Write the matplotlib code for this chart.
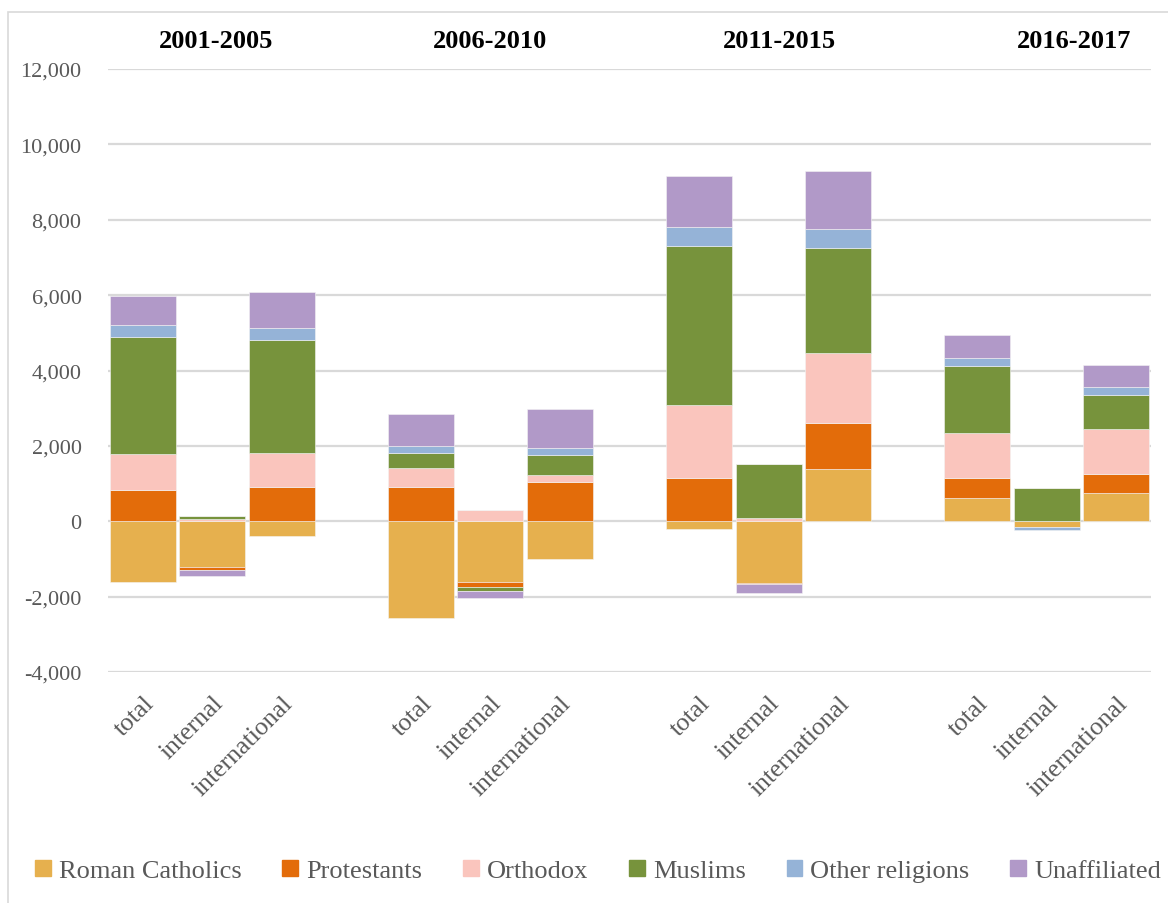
import matplotlib
matplotlib.use('Agg')
import matplotlib.pyplot as plt
import matplotlib.patches as patches
import numpy as np
from matplotlib.ticker import FuncFormatter

periods = ['2001-2005', '2006-2010', '2011-2015', '2016-2017']
kinds = ['total', 'internal', 'international']
religions = ['Roman Catholics', 'Protestants', 'Orthodox', 'Muslims',
             'Other religions', 'Unaffiliated']
colors = ['#e6b04e', '#e36c0a', '#fac5bd', '#77933c', '#95b3d7', '#b199c8']

# values per bar: total, internal, international for each period
roman_catholics = [-1600, -1210, -400, -2570, -1610, -1000, -200, -1630, 1380, 610, -140, 745]
protestants = [830, -90, 920, 910, -125, 1045, 1135, -45, 1230, 530, 0, 505]
orthodox = [950, 50, 885, 490, 290, 175, 1955, 80, 1865, 1205, 0, 1195]
muslims = [3105, 90, 3010, 405, -105, 540, 4220, 1430, 2780, 1770, 880, 905]
other_religions = [330, 0, 320, 195, 0, 175, 500, 0, 490, 220, -90, 205]
unaffiliated = [770, -160, 955, 840, -205, 1035, 1345, -220, 1550, 620, 0, 600]

series = [roman_catholics, protestants, orthodox, muslims, other_religions, unaffiliated]

grey_text = '#595959'
grid_col = '#d9d9d9'
serif = 'Liberation Serif'

fig = plt.figure(figsize=(11.68, 9.04), dpi=100)
ax = fig.add_axes([108 / 1168, 231 / 904, 1043 / 1168, 603 / 904])

# an empty slot between the periods
x = np.array([4 * g + k for g in range(len(periods)) for k in range(len(kinds))])

pos_base = np.zeros(len(x))
neg_base = np.zeros(len(x))
for vals, col, name in zip(series, colors, religions):
    v = np.array(vals, dtype=float)
    base = np.where(v >= 0, pos_base, neg_base)
    ax.bar(x, v, 0.95, bottom=base, color=col, edgecolor='#f4f4f4',
           linewidth=0.4, label=name, zorder=3)
    pos_base += np.where(v > 0, v, 0)
    neg_base += np.where(v < 0, v, 0)

ax.set_xlim(-0.5, 14.5)
ax.set_ylim(-4000, 12000)
ax.set_yticks(np.arange(-4000, 12001, 2000))
ax.yaxis.set_major_formatter(FuncFormatter(lambda v, p: f'{int(v):,}'))
ax.yaxis.grid(True, color=grid_col, linewidth=1.6, zorder=0)
ax.set_axisbelow(True)
for s in ax.spines.values():
    s.set_visible(False)
ax.tick_params(axis='both', length=0)
ax.tick_params(axis='y', pad=19, labelsize=16, labelcolor=grey_text)
for t in ax.get_yticklabels():
    t.set_fontfamily(serif)

ax.set_xticks(x)
ax.set_xticklabels(kinds * len(periods), rotation=45, ha='right',
                   rotation_mode='anchor', fontsize=18.5, color=grey_text,
                   family=serif)
ax.tick_params(axis='x', pad=14)

# period headers above the groups
period_label_x = [1.05, 5.0, 9.15, 13.4]
for px, name in zip(period_label_x, periods):
    ax.text(px, 12750, name, ha='center', va='center', fontsize=19,
            fontweight='bold', family=serif, clip_on=False)

handles = [patches.Patch(color=c) for c in colors]
leg = fig.legend(handles, religions, loc='center', ncol=6,
                 bbox_to_anchor=(598 / 1168, 1 - 872 / 904), frameon=False,
                 prop={'family': serif, 'size': 19},
                 handlelength=0.6, handleheight=0.6, handletextpad=0.3,
                 columnspacing=1.55)
for t in leg.get_texts():
    t.set_color(grey_text)

# chart area border (top and left edges visible)
fig.add_artist(patches.Rectangle((8 / 1168, -0.05), 1.2, 1 - 13 / 904 + 0.05,
                                 transform=fig.transFigure, fill=False,
                                 edgecolor=grid_col, linewidth=1.2))

fig.savefig('out.png', dpi=100)
